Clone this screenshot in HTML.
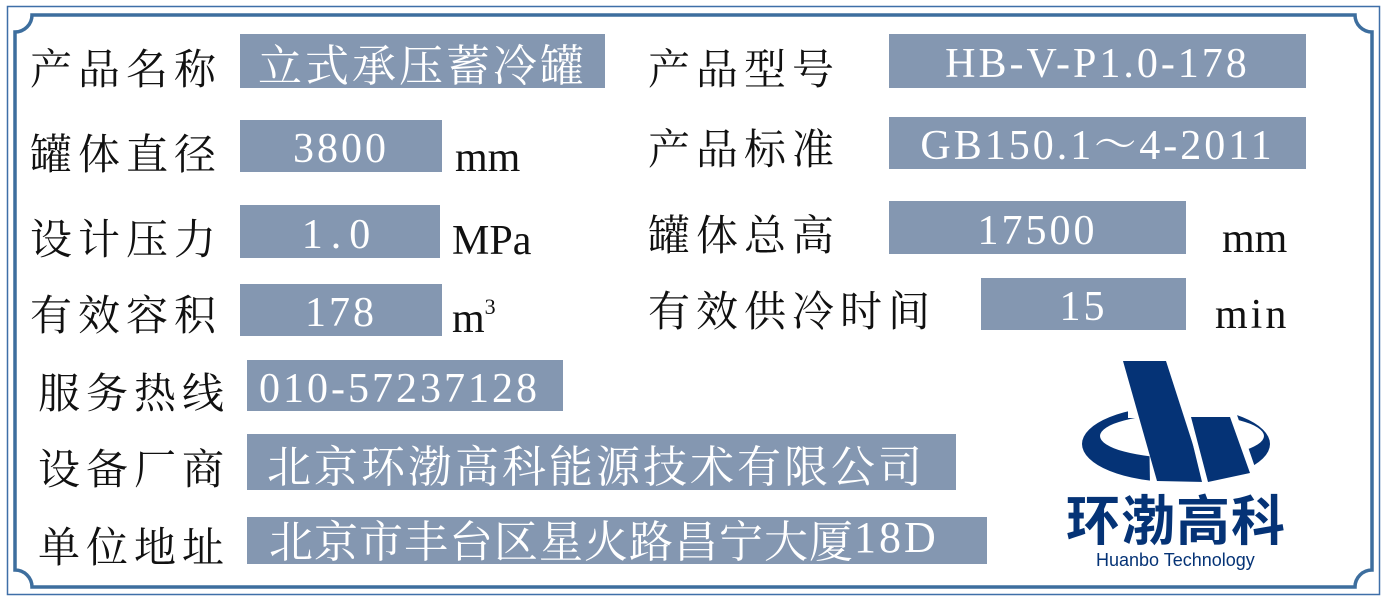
<!DOCTYPE html>
<html><head><meta charset="utf-8"><style>
body{margin:0;width:1399px;height:605px;background:#fff;position:relative;overflow:hidden;font-family:"Liberation Serif","Noto Serif CJK SC",serif}
.a{position:absolute;white-space:nowrap}
.l{font-family:"Noto Serif CJK SC",serif;font-size:42px;color:#111;letter-spacing:6px;line-height:1}
.b{position:absolute;background:#8497b1;color:#fff;font-size:42px;letter-spacing:3px;text-align:center;line-height:1;display:flex;align-items:center;justify-content:center;white-space:nowrap;padding-top:6px;box-sizing:border-box}
.c{font-family:"Noto Serif CJK SC",serif;font-size:44px;letter-spacing:3px;padding-top:2px}
.u{font-size:42px;color:#111;line-height:1;letter-spacing:0}
</style></head><body>
<svg class="a" style="left:0;top:0" width="1399" height="605">
<rect x="7.5" y="6.5" width="1372" height="588" fill="none" stroke="#3f6fa8" stroke-width="1.5"/>
<path d="M32 15 H1355 A17 17 0 0 0 1372 32 V570 A17 17 0 0 0 1355 587 H32 A17 17 0 0 0 15 570 V32 A17 17 0 0 0 32 15 Z" fill="none" stroke="#3d6e9e" stroke-width="3.5"/>
<g fill="#053376">
<path fill-rule="evenodd" d="M1082 444 A94 38 0 1 0 1270 444 A94 38 0 1 0 1082 444 Z M1100 436 A82 22 0 1 0 1264 436 A82 22 0 1 0 1100 436 Z"/>
<polygon fill="#fff" points="1128,395 1232,395 1232,418 1128,418"/>
<polygon fill="#fff" points="1148,360 1175,360 1220,484 1150,484"/>
<polygon points="1123,361 1166,361 1205,482 1157,481"/>
<polygon fill="#fff" points="1185,412 1236,412 1258,476 1203,486"/>
<polygon points="1191,417 1230,417 1250,473 1208,482"/>
</g>
</svg>
<div class="a" style="left:1066px;top:490px;font-family:'Noto Sans CJK SC',sans-serif;font-weight:700;font-size:54px;color:#053376;letter-spacing:1px;line-height:1">环渤高科</div>
<div class="a" style="left:1096px;top:551px;font-family:'Liberation Sans',sans-serif;font-size:18px;color:#053376;line-height:1">Huanbo Technology</div>

<div class="a l" style="left:30px;top:46px">产品名称</div>
<div class="b c" style="left:240px;top:34px;width:365px;height:54px">立式承压蓄冷罐</div>
<div class="a l" style="left:648px;top:46px">产品型号</div>
<div class="b" style="left:889px;top:34px;width:417px;height:54px">HB-V-P1.0-178</div>

<div class="a l" style="left:30px;top:131px">罐体直径</div>
<div class="b" style="left:240px;top:120px;width:202px;height:52px">3800</div>
<div class="a u" style="left:455px;top:137px">mm</div>
<div class="a l" style="left:648px;top:126px">产品标准</div>
<div class="b" style="left:889px;top:117px;width:417px;height:52px">GB150.1～4-2011</div>

<div class="a l" style="left:30px;top:216px">设计压力</div>
<div class="b" style="left:240px;top:205px;width:200px;height:53px;letter-spacing:8px">1.0</div>
<div class="a u" style="left:452px;top:220px">MPa</div>
<div class="a l" style="left:648px;top:212px">罐体总高</div>
<div class="b" style="left:889px;top:201px;width:297px;height:53px">17500</div>
<div class="a u" style="left:1222px;top:218px">mm</div>

<div class="a l" style="left:30px;top:292px">有效容积</div>
<div class="b" style="left:240px;top:284px;width:202px;height:52px">178</div>
<div class="a u" style="left:452px;top:298px">m<sup style="font-size:22px;vertical-align:18px;line-height:0">3</sup></div>
<div class="a l" style="left:648px;top:288px">有效供冷时间</div>
<div class="b" style="left:981px;top:278px;width:205px;height:52px">15</div>
<div class="a u" style="left:1215px;top:294px;letter-spacing:3px">min</div>

<div class="a l" style="left:38px;top:370px">服务热线</div>
<div class="b" style="left:247px;top:360px;width:316px;height:51px;justify-content:flex-start;padding-left:12px">010-57237128</div>
<div class="a l" style="left:38px;top:446px">设备厂商</div>
<div class="b c" style="left:247px;top:434px;width:709px;height:56px;justify-content:flex-start;padding-left:20px">北京环渤高科能源技术有限公司</div>
<div class="a l" style="left:38px;top:524px">单位地址</div>
<div class="b c" style="left:247px;top:517px;width:740px;height:47px;justify-content:flex-start;padding-left:22px;padding-top:0;padding-bottom:6px;letter-spacing:1px">北京市丰台区星火路昌宁大厦<span style="font-family:'Liberation Serif';letter-spacing:3px;font-size:44px">18D</span></div>
</body></html>
